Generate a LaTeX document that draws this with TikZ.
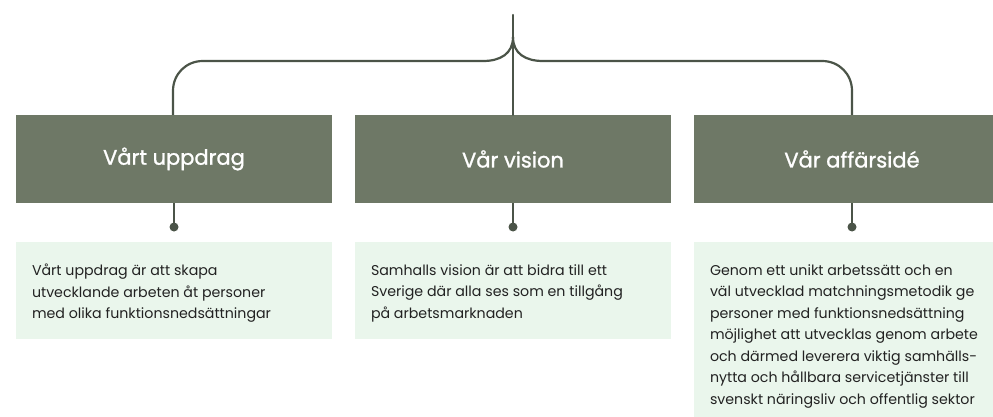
\documentclass[tikz,border=0pt]{standalone}
\usepackage{fontspec}
\setmainfont{Poppins}
\newfontfamily\hdrfont{Poppins}[FakeBold=1.2]
\definecolor{hdr}{HTML}{6E7866}
\definecolor{lne}{HTML}{4B5448}
\definecolor{tbg}{HTML}{EAF6EC}
\definecolor{txt}{HTML}{222222}
\tikzset{
  hdrbox/.style={fill=hdr, draw=none, minimum width=316pt, minimum height=88pt, inner sep=0pt,
    text=white, font=\hdrfont\fontsize{21}{25}\selectfont},
  tbox/.style={fill=tbg, draw=none, minimum width=316pt, inner sep=0pt},
  body/.style={anchor=north west, align=left, inner sep=0pt, text=txt,
    font=\fontsize{14.2}{21.5}\selectfont},
  conn/.style={draw=lne, line width=2.2pt},
  knob/.style={circle, fill=lne, draw=none, minimum size=9pt, inner sep=0pt},
}
\begin{document}
\begin{tikzpicture}[x=1pt,y=1pt]
\useasboundingbox (0,0) rectangle (993,-417);
\clip (0,0) rectangle (993,-417);
% header boxes
\node[hdrbox] (h1) at (174,-159) {Vårt uppdrag};
\node[hdrbox] (h2) at (513,-159) {Vår vision};
\node[hdrbox] (h3) at (852,-159) {Vår affärsidé};
% text boxes
\node[tbox, minimum height=97pt, anchor=north] (t1) at (174,-242) {};
\node[tbox, minimum height=97pt, anchor=north] (t2) at (513,-242) {};
\node[tbox, minimum height=190pt, anchor=north] (t3) at (852,-242) {};
\node[body] (b1) at ([xshift=16pt,yshift=-22pt]t1.north west)
  {Vårt uppdrag är att skapa\\utvecklande arbeten åt personer\\med olika funktionsnedsättningar};
\node[body] (b2) at ([xshift=16pt,yshift=-22pt]t2.north west)
  {Samhalls vision är att bidra till ett\\Sverige där alla ses som en tillgång\\på arbetsmarknaden};
\node[body] (b3) at ([xshift=16pt,yshift=-22pt]t3.north west)
  {Genom ett unikt arbetssätt och en\\väl utvecklad matchningsmetodik ge\\personer med funktionsnedsättning\\möjlighet att utvecklas genom arbete\\och därmed leverera viktig samhälls-\\nytta och hållbara servicetjänster till\\svenskt näringsliv och offentlig sektor};
% knobs
\node[knob] (k1) at (174,-227) {};
\node[knob] (k2) at (513,-227) {};
\node[knob] (k3) at (852,-227) {};
\draw[conn] (h1.south) -- (k1.center);
\draw[conn] (h2.south) -- (k2.center);
\draw[conn] (h3.south) -- (k3.center);
% brace
\coordinate (top) at (513,-15);
\coordinate (cusp) at (513,-37);
\draw[conn, line cap=round] (top) -- (h2.north);
\draw[conn] (cusp) .. controls (513,-54) and (500,-61) .. (483,-61)
  -- (203,-61) .. controls (186,-61) and (173,-74) .. (173,-91) -- (h1.north -| 173,0);
\draw[conn] (cusp) .. controls (513,-54) and (526,-61) .. (543,-61)
  -- (822,-61) .. controls (839,-61) and (852,-74) .. (852,-91) -- (h3.north);
\end{tikzpicture}
\end{document}
